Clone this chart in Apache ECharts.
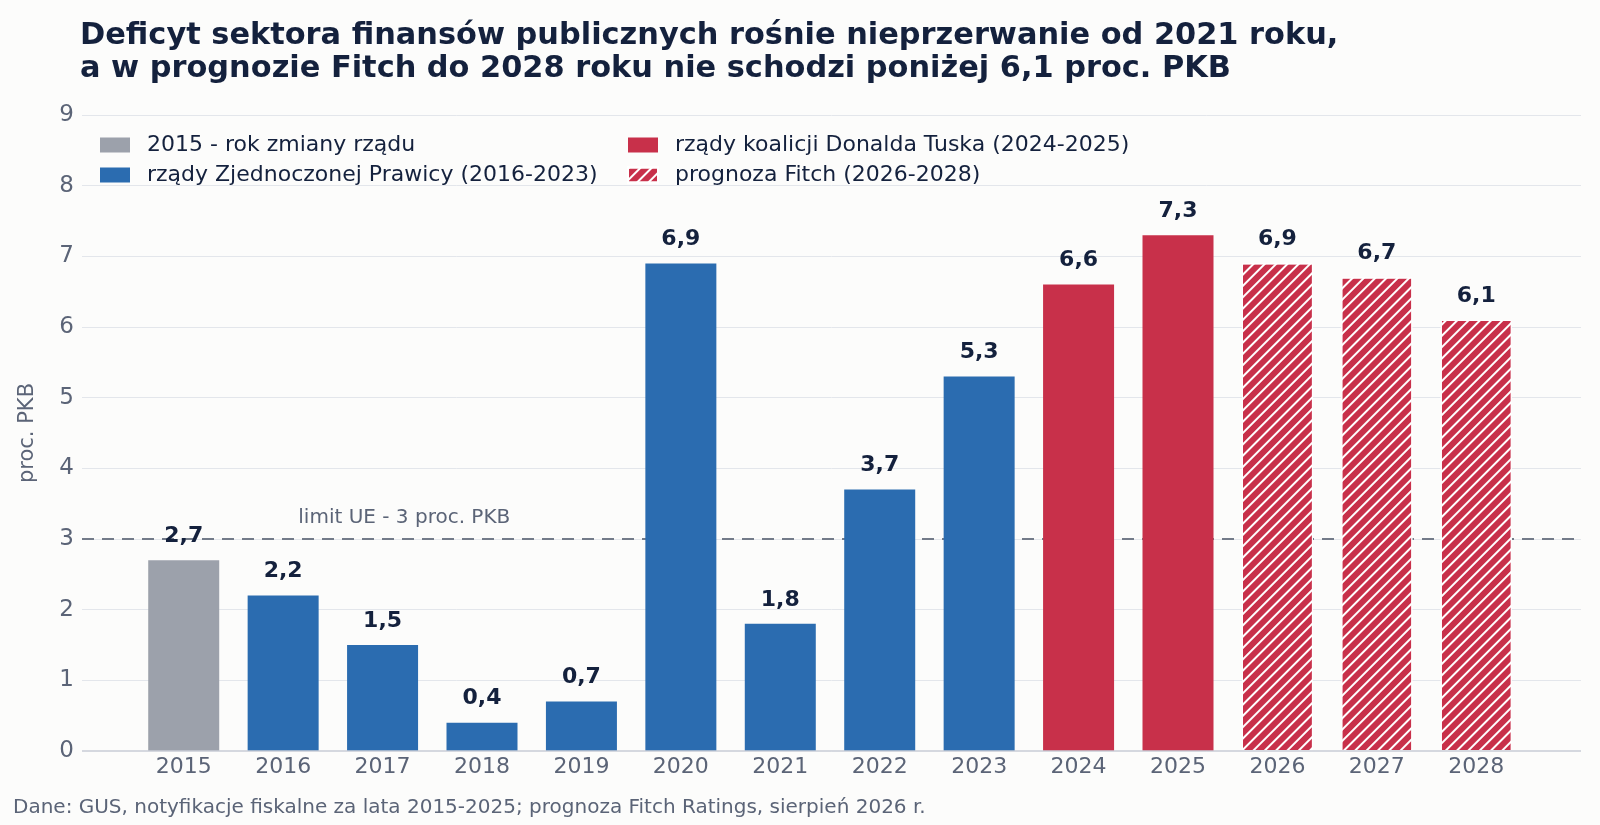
<!DOCTYPE html>
<html>
<head>
<meta charset="utf-8">
<script src="https://cdn.jsdelivr.net/npm/echarts@6/dist/echarts.min.js"></script>
<style>
  html, body { margin: 0; padding: 0; background: #fcfcfb; }
  #chart { width: 1600px; height: 825px; }
</style>
</head>
<body>
<div id="chart"></div>
<script>
var years = ['2015', '2016', '2017', '2018', '2019', '2020', '2021', '2022', '2023', '2024', '2025', '2026', '2027', '2028'];
var deficit = [2.7, 2.2, 1.5, 0.4, 0.7, 6.9, 1.8, 3.7, 5.3, 6.6, 7.3, 6.9, 6.7, 6.1];
// which group each year belongs to
var groups = ['zmiana', 'pis', 'pis', 'pis', 'pis', 'pis', 'pis', 'pis', 'pis', 'ko', 'ko', 'fitch', 'fitch', 'fitch'];
var euLimit = 3;
var yTicks = [0, 1, 2, 3, 4, 5, 6, 7, 8, 9];

var names = {
    zmiana: '2015 - rok zmiany rządu',
    pis: 'rządy Zjednoczonej Prawicy (2016-2023)',
    ko: 'rządy koalicji Donalda Tuska (2024-2025)',
    fitch: 'prognoza Fitch (2026-2028)'
};
var colors = { zmiana: '#9ca1ab', pis: '#2b6cb0', ko: '#c8304a', fitch: '#c8304a' };

var font = 'DejaVu Sans';
var dark = '#14213d';
var grey = '#5b6477';

function pick(g) {
    var out = [];
    for (var i = 0; i < deficit.length; i++) {
        out.push(groups[i] == g ? deficit[i] : null);
    }
    return out;
}

function barSeries(g) {
    var s = {
        name: names[g],
        type: 'bar',
        xAxisIndex: 1,
        yAxisIndex: 1,
        barWidth: 71,
        barGap: '-100%',
        z: 3,
        itemStyle: { color: colors[g] },
        label: {
            show: true,
            position: 'top',
            distance: 13,
            fontFamily: font,
            fontWeight: 'bold',
            fontSize: 22,
            color: dark,
            formatter: function (p) { return String(p.value).replace('.', ','); }
        },
        data: pick(g)
    };
    if (g == 'fitch') {
        s.itemStyle.borderColor = '#ffffff';
        s.itemStyle.borderWidth = 1;
        s.itemStyle.decal = {
            symbol: 'rect',
            color: '#ffffff',
            dashArrayX: [1, 0],
            dashArrayY: [2, 6],
            rotation: -Math.PI / 4
        };
    }
    return s;
}

var legendBase = {
    orient: 'vertical',
    top: 129,
    icon: 'rect',
    itemWidth: 30,
    itemHeight: 15,
    itemGap: 8,
    selectedMode: false,
    textStyle: { fontFamily: font, fontSize: 22, color: dark, padding: [0, 0, 0, 12] }
};

var chart = echarts.init(document.getElementById('chart'));

var option = {
    backgroundColor: '#fcfcfb',
    animation: false,
    title: [{
        text: 'Deficyt sektora finansów publicznych rośnie nieprzerwanie od 2021 roku,\na w prognozie Fitch do 2028 roku nie schodzi poniżej 6,1 proc. PKB',
        left: 75,
        top: 15,
        textStyle: { fontFamily: font, fontWeight: 'bold', fontSize: 30.4, lineHeight: 33, color: dark }
    }, {
        text: 'Dane: GUS, notyfikacje fiskalne za lata 2015-2025; prognoza Fitch Ratings, sierpień 2026 r.',
        left: 8,
        top: 793,
        textStyle: { fontFamily: font, fontWeight: 'normal', fontSize: 20, color: grey }
    }],
    legend: [
        Object.assign({}, legendBase, { left: 95, data: [names.zmiana, names.pis] }),
        Object.assign({}, legendBase, { left: 622, data: [names.ko, names.fitch] })
    ],
    grid: [
        { left: 82, right: 19, top: 115, bottom: 74 },
        { left: 134, right: 74, top: 115, bottom: 74 }
    ],
    xAxis: [{
        gridIndex: 0,
        type: 'value',
        min: 0,
        max: 1,
        show: false
    }, {
        gridIndex: 1,
        type: 'category',
        data: years,
        axisLine: { show: false },
        axisTick: { show: false },
        axisLabel: { fontFamily: font, fontSize: 22, color: grey, margin: 5 }
    }],
    yAxis: [{
        gridIndex: 0,
        type: 'value',
        min: yTicks[0],
        max: yTicks[yTicks.length - 1],
        interval: 1,
        name: 'proc. PKB',
        nameLocation: 'middle',
        nameGap: 44,
        nameTextStyle: { fontFamily: font, fontSize: 21, color: grey },
        axisLine: { show: false },
        axisTick: { show: false },
        axisLabel: { fontFamily: font, fontSize: 23, color: grey, margin: 8, padding: [5, 0, 0, 0] },
        splitLine: { lineStyle: { color: '#e3e6eb', width: 1 } }
    }, {
        gridIndex: 1,
        type: 'value',
        min: yTicks[0],
        max: yTicks[yTicks.length - 1],
        show: false,
        splitLine: { show: false }
    }],
    series: [{
        type: 'line',
        xAxisIndex: 0,
        yAxisIndex: 0,
        z: 1,
        symbol: 'circle',
        symbolSize: 0,
        showSymbol: true,
        showAllSymbol: true,
        silent: true,
        lineStyle: { color: '#737b89', width: 2, type: [12, 8] },
        data: [
            [0, euLimit],
            { value: [0.215, euLimit], label: {
                show: true, position: 'top', distance: 11,
                formatter: 'limit UE - 3 proc. PKB',
                fontFamily: font, fontSize: 20, color: grey
            } },
            [1, euLimit]
        ]
    }, {
        // bottom axis line across the whole plot width
        type: 'line',
        xAxisIndex: 0,
        yAxisIndex: 0,
        z: 4,
        symbol: 'none',
        silent: true,
        lineStyle: { color: '#c9cdd6', width: 1.5 },
        data: [[0, 0], [1, 0]]
    },
        barSeries('zmiana'),
        barSeries('pis'),
        barSeries('ko'),
        barSeries('fitch')
    ]
};

chart.setOption(option);
</script>
</body>
</html>
